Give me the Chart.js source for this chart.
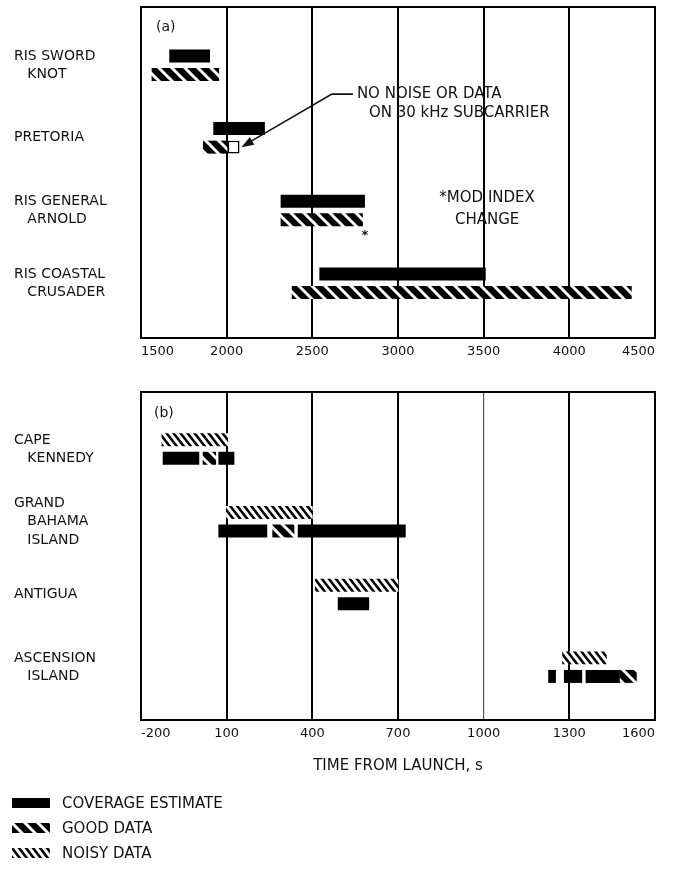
<!DOCTYPE html>
<html>
<head>
<meta charset="utf-8">
<script src="https://cdn.jsdelivr.net/npm/chart.js@4.4.1/dist/chart.umd.min.js"></script>
<style>
  body { margin: 0; background: #fff; font-family: "DejaVu Sans", sans-serif; color: #111; }
  #page { position: relative; width: 688px; height: 875px; overflow: hidden; }
  .panel { position: absolute; left: 0; width: 688px; }
  #legend { position: absolute; left: 12px; top: 790px; }
  .item { display: flex; align-items: center; height: 25px; font-size: 15px; }
  .item canvas { margin-right: 12px; }
</style>
</head>
<body>
<div id="page">
  <div class="panel" style="top:0;height:370px"><canvas id="shipChart"></canvas></div>
  <div class="panel" style="top:372px;height:410px"><canvas id="groundChart"></canvas></div>
  <div id="legend"></div>
</div>
<script>
// (a) Range instrumentation ships - intervals in seconds from launch
const shipStations = [['RIS SWORD', '   KNOT'], ['PRETORIA'], ['RIS GENERAL', '   ARNOLD'], ['RIS COASTAL', '   CRUSADER']];
const shipCoverage = [[[1665, 1903]], [[1922, 2223]], [[2315, 2807]], [[2541, 3512]]];
const shipGood = [[[1562, 1956]], [[1862, 2005]], [[2315, 2795]], [[2380, 4364]]];
const shipNoSignal = [[], [[2005, 2075]], [], []];
const shipTicks = [1500, 2000, 2500, 3000, 3500, 4000, 4500];

// (b) Ground stations
const groundStations = [['CAPE', '   KENNEDY'], ['GRAND', '   BAHAMA', '   ISLAND'], ['ANTIGUA'], ['ASCENSION', '   ISLAND']];
const groundNoisy = [[[-128, 105]], [[98, 401]], [[409, 701]], [[1275, 1431]]];
const groundCoverage = [[[-124, 4], [71, 127]], [[71, 242], [349, 727]], [[489, 599]], [[1226, 1253], [1281, 1345], [1357, 1477]]];
const groundGood = [[[16, 63]], [[260, 337]], [], [[1477, 1536]]];
const groundTicks = [-200, 100, 400, 700, 1000, 1300, 1600];

const legendItems = [['coverage', 'COVERAGE ESTIMATE'], ['good', 'GOOD DATA'], ['noisy', 'NOISY DATA']];

const FONT = '"DejaVu Sans", sans-serif';
const INK = '#111';
Chart.defaults.font.family = FONT;
Chart.defaults.color = INK;

// diagonal hatch tile: stripes run top-left to bottom-right
function hatch(bg, fg, w, h, lw) {
  const c = document.createElement('canvas');
  c.width = w; c.height = h;
  const g = c.getContext('2d');
  g.fillStyle = bg; g.fillRect(0, 0, w, h);
  g.strokeStyle = fg; g.lineWidth = lw;
  for (const o of [-w, 0, w]) {
    g.beginPath(); g.moveTo(o - w, -h); g.lineTo(o + 2 * w, 2 * h); g.stroke();
  }
  return g.createPattern(c, 'repeat');
}
const FILL = {
  coverage: '#000',
  good: hatch('#000', '#fff', 13, 13, 3),
  noisy: hatch('#fff', '#000', 7, 9, 2.6),
  none: '#fff'
};

// flatten per-station segment lists into floating-bar points
function rowData(...layers) {
  const pts = [];
  layers.forEach(([byStation, kind]) => byStation.forEach((segs, i) =>
    segs.forEach(s => pts.push({ x: s, y: i, kind }))));
  return pts;
}
function rowDataset(label, data) {
  return {
    label, data,
    backgroundColor: c => FILL[c.raw.kind],
    borderColor: '#000',
    borderWidth: c => (c.raw.kind === 'none' ? 1.5 : 0),
    borderSkipped: false,
    categoryPercentage: 0.51,
    barPercentage: 0.7
  };
}

const framePlugin = {
  id: 'frame',
  afterDatasetsDraw(chart) {
    const a = chart.chartArea, ctx = chart.ctx;
    ctx.save();
    ctx.strokeStyle = '#000';
    ctx.lineWidth = 2;
    ctx.strokeRect(a.left, a.top, a.right - a.left, a.bottom - a.top);
    ctx.restore();
  }
};

function xScale(ticks, height, extra) {
  return Object.assign({
    type: 'linear', position: 'bottom',
    min: ticks[0], max: ticks[ticks.length - 1],
    afterBuildTicks: s => { s.ticks = ticks.map(v => ({ value: v })); },
    ticks: { align: 'inner', padding: 6, autoSkip: false, maxRotation: 0, color: INK,
             font: { size: 13 }, callback: v => String(v) },
    grid: { color: '#000', lineWidth: 2, drawTicks: false },
    border: { display: false },
    afterFit: s => { s.height = height; s.paddingLeft = 0; s.paddingRight = 0; }
  }, extra);
}
function yScale(stations, min, max) {
  return {
    type: 'linear', reverse: true, offset: false, min, max,
    afterBuildTicks: s => { s.ticks = stations.map((_, i) => ({ value: i })); },
    ticks: { crossAlign: 'far', padding: 0, autoSkip: false, color: INK,
             font: { size: 14, lineHeight: 1.3 }, callback: v => stations[v] },
    grid: { display: false },
    border: { display: false },
    afterFit: s => { s.width = 127; s.paddingTop = 0; s.paddingBottom = 0; }
  };
}
const common = {
  indexAxis: 'y',
  responsive: true,
  maintainAspectRatio: false,
  animation: false,
  devicePixelRatio: 1
};

// ---- panel (a)
const shipUpper = rowData([shipCoverage, 'coverage']);
const shipLower = rowData([shipGood, 'good'], [shipNoSignal, 'none']);

const shipNotes = {
  id: 'shipNotes',
  afterDraw(chart) {
    const { ctx, chartArea: a, scales: { x, y } } = chart;
    const lower = chart.getDatasetMeta(1).data;
    const gap = lower[shipLower.findIndex(p => p.kind === 'none')];
    const arnold = lower[shipLower.findIndex(p => p.kind === 'good' && p.y === 2)];
    ctx.save();
    ctx.fillStyle = INK;
    ctx.strokeStyle = INK;
    ctx.textBaseline = 'middle';
    ctx.font = '14px ' + FONT;
    ctx.fillText('(a)', a.left + 15, a.top + 20);

    // subcarrier note with leader to the empty box
    ctx.font = '15px ' + FONT;
    const tx = x.getPixelForValue(2760);
    const l1 = gap.y - 53, l2 = gap.y - 34;
    ctx.fillText('NO NOISE OR DATA', tx, l1);
    ctx.fillText('ON 30 kHz SUBCARRIER', tx + 12, l2);
    const tipX = gap.x + 2, tipY = gap.y;
    const bendX = tx - 25;
    ctx.lineWidth = 1.6;
    ctx.beginPath();
    ctx.moveTo(tx - 4, l1);
    ctx.lineTo(bendX, l1);
    ctx.lineTo(tipX + 8, tipY - 5);
    ctx.stroke();
    const ang = Math.atan2(tipY - l1, tipX - bendX);
    ctx.beginPath();
    ctx.moveTo(tipX, tipY);
    ctx.lineTo(tipX - 13 * Math.cos(ang - 0.35), tipY - 13 * Math.sin(ang - 0.35));
    ctx.lineTo(tipX - 13 * Math.cos(ang + 0.35), tipY - 13 * Math.sin(ang + 0.35));
    ctx.closePath();
    ctx.fill();

    // modulation index note
    ctx.textAlign = 'center';
    const mx = x.getPixelForValue(3520), my = y.getPixelForValue(2);
    ctx.fillText('*MOD INDEX', mx, my - 12);
    ctx.fillText('CHANGE', mx, my + 10);
    ctx.font = 'bold 13px ' + FONT;
    ctx.fillText('*', arnold.x + 2, arnold.y + 16);
    ctx.restore();
  }
};

new Chart(document.getElementById('shipChart'), {
  type: 'bar',
  data: { datasets: [rowDataset('Coverage estimate', shipUpper), rowDataset('Good data', shipLower)] },
  options: Object.assign({}, common, {
    layout: { padding: { left: 14, top: 7, right: 33, bottom: 0 } },
    plugins: { legend: { display: false }, tooltip: { enabled: false } },
    scales: {
      x: xScale(shipTicks, 32),
      y: yScale(shipStations, -0.8, 3.753)
    }
  }),
  plugins: [framePlugin, shipNotes]
});

// ---- panel (b)
const groundUpper = rowData([groundNoisy, 'noisy']);
const groundLower = rowData([groundCoverage, 'coverage'], [groundGood, 'good']);

const groundNotes = {
  id: 'groundNotes',
  afterDraw(chart) {
    const { ctx, chartArea: a } = chart;
    ctx.save();
    ctx.fillStyle = INK;
    ctx.textBaseline = 'middle';
    ctx.font = '14px ' + FONT;
    ctx.fillText('(b)', a.left + 13, a.top + 21);
    ctx.restore();
  }
};

const gx = xScale(groundTicks, 62, {
  title: { display: true, text: 'TIME FROM LAUNCH, s', color: INK, font: { size: 15 }, padding: { top: 4, bottom: 7 } }
});
gx.grid.lineWidth = c => (c.tick && c.tick.value === 1000 ? 1.2 : 2);
gx.grid.color = c => (c.tick && c.tick.value === 1000 ? '#555' : '#000');

new Chart(document.getElementById('groundChart'), {
  type: 'bar',
  data: { datasets: [rowDataset('Noisy data', groundUpper), rowDataset('Coverage estimate', groundLower)] },
  options: Object.assign({}, common, {
    layout: { padding: { left: 14, top: 20, right: 33, bottom: 0 } },
    plugins: { legend: { display: false }, tooltip: { enabled: false } },
    scales: {
      x: gx,
      y: yScale(groundStations, -0.784, 3.727)
    }
  }),
  plugins: [framePlugin, groundNotes]
});

// ---- legend
const legend = document.getElementById('legend');
legendItems.forEach(([kind, text]) => {
  const row = document.createElement('div');
  row.className = 'item';
  const sw = document.createElement('canvas');
  sw.width = 38; sw.height = 10;
  const g = sw.getContext('2d');
  g.fillStyle = FILL[kind];
  g.fillRect(0, 0, 38, 10);
  row.appendChild(sw);
  const label = document.createElement('span');
  label.textContent = text;
  row.appendChild(label);
  legend.appendChild(row);
});
</script>
</body>
</html>
